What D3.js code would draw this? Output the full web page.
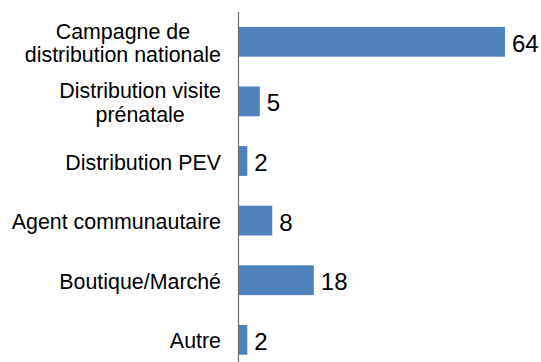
<!DOCTYPE html>
<html>
<head>
<meta charset="utf-8">
<script src="https://cdn.jsdelivr.net/npm/d3@7"></script>
<style>
  html, body { margin: 0; padding: 0; background: #ffffff; }
  svg { display: block; }
  text { font-family: "Liberation Sans", Arial, sans-serif; fill: #000; }
</style>
</head>
<body>
<svg id="chart" width="541" height="362"></svg>
<script>
// Categories (line breaks mark wrapped labels) and their counts
const categories = [
  "Campagne de\ndistribution nationale",
  "Distribution visite\nprénatale",
  "Distribution PEV",
  "Agent communautaire",
  "Boutique/Marché",
  "Autre"
];
const values = [64, 5, 2, 8, 18, 2];

const W = 541, H = 362;
const axisX = 239;
const catFont = 21.4;
const valFont = 24;

const svg = d3.select("#chart");

const x = d3.scaleLinear().domain([0, 64]).range([axisX, 505]);
const y = d3.scaleBand()
  .domain(categories)
  .range([12, 369.6])
  .paddingInner(0.5)
  .paddingOuter(0.25);

const data = categories.map((c, i) => ({ cat: c, value: values[i] }));

// Bars
svg.append("g")
  .selectAll("rect")
  .data(data)
  .join("rect")
  .attr("x", x(0))
  .attr("y", d => y(d.cat))
  .attr("width", d => x(d.value) - x(0))
  .attr("height", y.bandwidth())
  .attr("fill", "#4f81bd");

// Category axis line
svg.append("line")
  .attr("x1", axisX - 0.5).attr("x2", axisX - 0.5)
  .attr("y1", 12).attr("y2", H)
  .attr("stroke", "#6e6e6e")
  .attr("stroke-width", 1.2);

// Category labels: multi-line labels are centred on each other and right-aligned as a block
const lineH = 23.5;
const labels = svg.append("g");
data.forEach(d => {
  const lines = d.cat.split("\n");
  const cy = y(d.cat) + y.bandwidth() / 2;
  const g = labels.append("g");
  const texts = lines.map((ln, j) => g.append("text")
    .attr("y", cy + (j - (lines.length - 1) / 2) * lineH)
    .attr("dy", "0.4em")
    .attr("font-size", catFont)
    .text(ln));
  const widths = texts.map(t => t.node().getComputedTextLength());
  const maxW = d3.max(widths);
  const right = 221;
  const centre = right - maxW / 2;
  texts.forEach(t => t.attr("x", centre).attr("text-anchor", "middle"));
});

// Value labels
svg.append("g")
  .selectAll("text")
  .data(data)
  .join("text")
  .attr("x", d => x(d.value) + 7)
  .attr("y", d => y(d.cat) + y.bandwidth() / 2)
  .attr("dy", "0.42em")
  .attr("font-size", valFont)
  .text(d => d.value);
</script>
</body>
</html>
